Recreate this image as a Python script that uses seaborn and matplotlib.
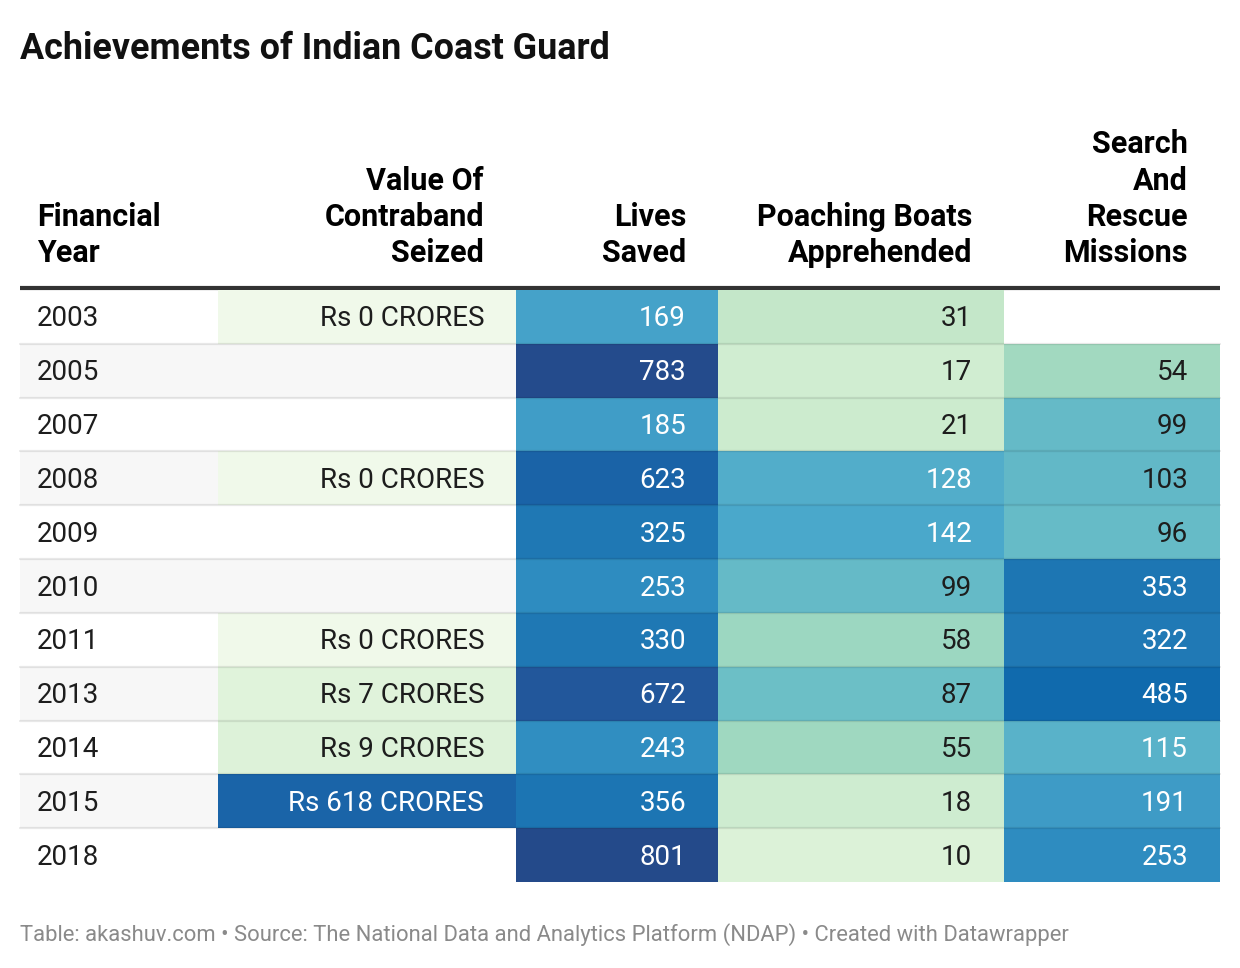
import numpy as np
import pandas as pd
import matplotlib
matplotlib.use('Agg')
import matplotlib.pyplot as plt
import matplotlib.colors as mcolors
import seaborn as sns

years = ['2003', '2005', '2007', '2008', '2009', '2010', '2011', '2013', '2014', '2015', '2018']
contraband = [0, np.nan, np.nan, 0, np.nan, np.nan, 0, 7, 9, 618, np.nan]
lives_saved = [169, 783, 185, 623, 325, 253, 330, 672, 243, 356, 801]
poaching_boats = [31, 17, 21, 128, 142, 99, 58, 87, 55, 18, 10]
search_rescue = [np.nan, 54, 99, 103, 96, 353, 322, 485, 115, 191, 253]

headers = ['Financial\nYear', 'Value Of\nContraband\nSeized', 'Lives\nSaved',
           'Poaching Boats\nApprehended', 'Search\nAnd\nRescue\nMissions']

df = pd.DataFrame({'contraband': contraband, 'lives': lives_saved,
                   'poaching': poaching_boats, 'sar': search_rescue}, index=years)

sns.set_theme(style='white')
plt.rcParams['font.family'] = ['Roboto', 'DejaVu Sans']

W, H = 1240, 968
fig = plt.figure(figsize=(W / 100, H / 100), dpi=100)

# Shared colour scale for all value columns
cmap = mcolors.LinearSegmentedColormap.from_list('dw', [
    (0.00, '#f0f9ea'), (0.11, '#dcf2d8'), (0.15, '#ceecd0'), (0.20, '#c3e7c8'),
    (0.26, '#a1d9c0'), (0.33, '#6cbfc6'), (0.42, '#4aa8cb'), (0.46, '#45a2c9'),
    (0.56, '#2e8cc0'), (0.64, '#1f78b4'), (0.78, '#106aad'), (0.88, '#1a64a8'),
    (0.92, '#22569a'), (1.00, '#244a8a')])
norm = mcolors.PowerNorm(gamma=0.5, vmin=0, vmax=801)


def rect(x0, y0, x1, y1):
    return [x0 / W, 1 - y1 / H, (x1 - x0) / W, (y1 - y0) / H]


# column edges and table rows in pixels
col_edges = [20, 218, 516, 718, 1004, 1220]
top, bottom = 290, 882
n = len(years)
row_h = (bottom - top) / n
pad = 32
shift = 2  # nudge body text down a touch

bg = fig.add_axes([0, 0, 1, 1])
bg.set_xlim(0, W)
bg.set_ylim(H, 0)
bg.axis('off')

# zebra stripes
for i in range(n):
    if i % 2 == 1:
        bg.fill_between([20, 1220], top + i * row_h, top + (i + 1) * row_h, color='#f7f7f7', lw=0)

bg.text(20, 49, 'Achievements of Indian Coast Guard', fontsize=25.8, fontweight='bold',
        va='center', ha='left', color='#111111')

# headers
bg.text(col_edges[0] + 17, 262, headers[0], fontsize=22, fontweight='bold', ha='left',
        va='baseline', linespacing=1.26, color='#000000')
for j, h in enumerate(headers[1:]):
    bg.text(col_edges[j + 2] - pad, 262, h, fontsize=22, fontweight='bold', ha='right',
            va='baseline', multialignment='right', linespacing=1.26, color='#000000')
bg.plot([20, 1220], [288, 288], color='#333333', lw=3, solid_capstyle='butt')

# year column
for i, y in enumerate(years):
    bg.text(col_edges[0] + 17, top + (i + 0.5) * row_h + shift, y, fontsize=20, va='center',
            ha='left', color='#1d1d1d')

# coloured value columns
cols = ['contraband', 'lives', 'poaching', 'sar']
for j, c in enumerate(cols):
    x0, x1 = col_edges[j + 1], col_edges[j + 2]
    ax = fig.add_axes(rect(x0, top, x1, bottom))
    ax.patch.set_alpha(0)
    sns.heatmap(df[[c]], ax=ax, cmap=cmap, norm=norm, cbar=False,
                xticklabels=False, yticklabels=False, linewidths=0)
    ax.set_xlabel('')
    ax.set_ylabel('')
    xr = 1 - pad / (x1 - x0)
    for i, v in enumerate(df[c]):
        if np.isnan(v):
            continue
        label = f'Rs {v:.0f} CRORES' if c == 'contraband' else f'{v:.0f}'
        ax.text(xr, i + 0.5 + shift / row_h, label, fontsize=20, ha='right', va='center',
                color='white' if v > 110 else '#1d1d1d')

# row separators on top
ov = fig.add_axes([0, 0, 1, 1], zorder=10)
ov.patch.set_alpha(0)
ov.set_xlim(0, W)
ov.set_ylim(H, 0)
ov.axis('off')
for i in range(1, n):
    yy = top + i * row_h
    ov.plot([20, 1220], [yy, yy], color='black', alpha=0.09, lw=1.6)

bg.text(20, 935, 'Table: akashuv.com \u2022 Source: The National Data and Analytics Platform (NDAP) '
        '\u2022 Created with Datawrapper', fontsize=15.85, color='#8a8a8a', va='center', ha='left')

fig.savefig('out.png', dpi=100)
